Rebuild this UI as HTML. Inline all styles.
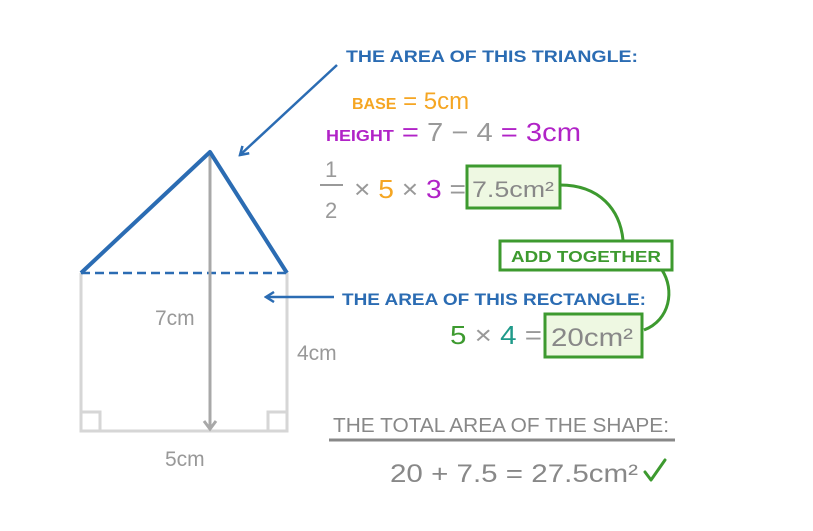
<!DOCTYPE html>
<html><head><meta charset="utf-8"><style>
html,body{margin:0;padding:0;background:#fff;}
svg{display:block;font-family:"Liberation Sans",sans-serif;}
</style></head><body>
<svg width="813" height="531" viewBox="0 0 813 531">
<defs>
<marker id="ab" markerWidth="12" markerHeight="12" refX="10" refY="6" orient="auto" markerUnits="userSpaceOnUse"><path d="M2,1 L10,6 L2,11" fill="none" stroke="#2b6cb3" stroke-width="2.5"/></marker>
</defs>
<g stroke="#d6d6d6" stroke-width="3" fill="none">
<polyline points="81,273 81,431 287,431 287,273"/>
<polyline points="81,412 100,412 100,431"/>
<polyline points="287,412 268,412 268,431"/>
</g>
<line x1="81" y1="273" x2="287" y2="273" stroke="#2b6cb3" stroke-width="2.5" stroke-dasharray="9,5"/>
<g stroke="#a8a8a8" stroke-width="3" fill="none">
<line x1="210" y1="155" x2="210" y2="429"/>
<polyline points="204,421 210,429 216,421"/>
</g>
<polyline points="81,273 210,152 287,273" fill="none" stroke="#2b6cb3" stroke-width="4" stroke-linejoin="round"/>
<text x="155" y="325" font-size="21" fill="#999">7cm</text>
<text x="297" y="360" font-size="21" fill="#999">4cm</text>
<text x="165" y="466" font-size="21" fill="#999">5cm</text>
<line x1="337" y1="65" x2="240" y2="155" stroke="#2b6cb3" stroke-width="2.5" marker-end="url(#ab)"/>
<text x="346" y="62" font-size="17" font-weight="bold" fill="#2b6cb3" textLength="292" lengthAdjust="spacingAndGlyphs">THE AREA OF THIS TRIANGLE:</text>
<text x="352" y="109" font-size="24" fill="#f5a623"><tspan font-size="16" font-weight="bold">BASE</tspan> = 5cm</text>
<text x="326" y="141" font-size="26" fill="#b123c7" textLength="255" lengthAdjust="spacingAndGlyphs"><tspan font-size="16" font-weight="bold">HEIGHT</tspan> = <tspan fill="#999">7 − 4</tspan> = 3cm</text>
<g fill="#999" font-size="22">
<text x="325" y="177">1</text>
<line x1="320" y1="185" x2="343" y2="185" stroke="#999" stroke-width="2"/>
<text x="325" y="218">2</text>
</g>
<text x="354" y="198" font-size="26" fill="#999" textLength="112" lengthAdjust="spacingAndGlyphs">× <tspan fill="#f5a623">5</tspan> × <tspan fill="#b123c7">3</tspan> =</text>
<rect x="467" y="166" width="93" height="42" fill="#eef8e2" stroke="#3d9a2f" stroke-width="3"/>
<text x="472" y="197" font-size="22" fill="#888" textLength="82" lengthAdjust="spacingAndGlyphs">7.5cm²</text>
<path d="M560,185 C600,185 620,210 623,240" fill="none" stroke="#3d9a2f" stroke-width="3"/>
<rect x="500" y="241" width="172" height="29" fill="#fff" stroke="#3d9a2f" stroke-width="3"/>
<text x="511" y="262" font-size="16" font-weight="bold" fill="#3d9a2f" textLength="150" lengthAdjust="spacingAndGlyphs">ADD TOGETHER</text>
<path d="M662,270 C675,290 670,320 644,330" fill="none" stroke="#3d9a2f" stroke-width="3"/>
<line x1="334" y1="297" x2="266" y2="297" stroke="#2b6cb3" stroke-width="2.5" marker-end="url(#ab)"/>
<text x="342" y="305" font-size="17" font-weight="bold" fill="#2b6cb3" textLength="304" lengthAdjust="spacingAndGlyphs">THE AREA OF THIS RECTANGLE:</text>
<text x="450" y="344" font-size="26" fill="#3d9a2f" textLength="92" lengthAdjust="spacingAndGlyphs">5 <tspan fill="#999">×</tspan> <tspan fill="#1f9a8a">4</tspan> <tspan fill="#999">=</tspan></text>
<rect x="545" y="314" width="97" height="43" fill="#eef8e2" stroke="#3d9a2f" stroke-width="3"/>
<text x="551" y="346" font-size="25" fill="#888" textLength="82" lengthAdjust="spacingAndGlyphs">20cm²</text>
<text x="333" y="432" font-size="20" fill="#888" textLength="336" lengthAdjust="spacingAndGlyphs">THE TOTAL AREA OF THE SHAPE:</text>
<line x1="329" y1="440" x2="675" y2="440" stroke="#888" stroke-width="3"/>
<text x="390" y="482" font-size="25" fill="#888" textLength="248" lengthAdjust="spacingAndGlyphs">20 + 7.5 = 27.5cm²</text>
<path d="M645,472 L651,480 L665,460" fill="none" stroke="#3d9a2f" stroke-width="3" stroke-linecap="round" stroke-linejoin="round"/>
</svg>
</body></html>
